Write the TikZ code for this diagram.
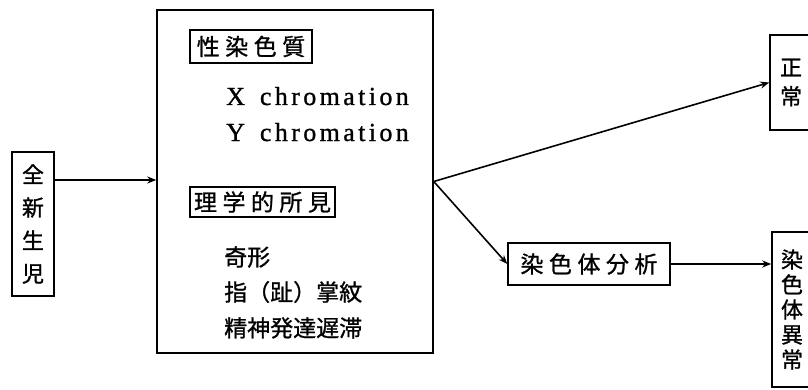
\documentclass[tikz,border=0pt]{standalone}
\usepackage{fontspec}
\setmainfont{Liberation Serif}
\newfontfamily\jp[FakeBold=1]{Noto Sans CJK JP}
\newfontfamily\lat[LetterSpace=13,FakeBold=1]{Liberation Serif}
\usetikzlibrary{arrows.meta}
\newcommand\jgap{\hspace{5.5pt}}
\begin{document}
\begin{tikzpicture}[x=1pt,y=1pt,
  box/.style={draw, inner sep=0pt, line width=1.5pt},
  arr/.style={-{Stealth[length=9pt,width=7pt]}, line width=1.6pt},
  jpt/.style={font={\jp\fontsize{23pt}{26pt}\selectfont}},
  jpl/.style={font={\jp\fontsize{23pt}{26pt}\selectfont}, inner sep=0pt, anchor=west},
  latt/.style={font={\lat\fontsize{26pt}{28pt}\selectfont}, inner sep=0pt, anchor=base west}]
\useasboundingbox (0,0) rectangle (808,389);
\clip (0,0) rectangle (808,389);
% left box
\node[box, minimum width=42pt, minimum height=144pt, align=center,
      font={\jp\fontsize{22pt}{33pt}\selectfont}] (nb) at (33,165) {全\\新\\生\\児};
% main box
\node[box, minimum width=276pt, minimum height=343pt] (main) at (295,207.5) {};
\node[box, minimum width=122pt, minimum height=33pt, jpt] (sx) at (251,342.5) {性\jgap 染\jgap 色\jgap 質};
\node[latt] (xc) at (226,284) {X\hspace{15pt}chromation};
\node[latt] (yc) at (226,248) {Y\hspace{15pt}chromation};
\node[box, minimum width=145pt, minimum height=30pt, jpt] (ph) at (262.5,187) {理\jgap 学\jgap 的\jgap 所\jgap 見};
\node[jpl] (l1) at (224,132) {奇形};
\node[jpl] (l2) at (224,97) {指（趾）掌紋};
\node[jpl] (l3) at (224,61) {精神発達遅滞};
% right side
\node[box, minimum width=42pt, minimum height=95pt, align=center,
      font={\jp\fontsize{22pt}{29pt}\selectfont}] (ok) at (791,306.5) {正\\常};
\node[box, minimum width=162pt, minimum height=42pt, jpt] (ana) at (589,125) {染\jgap 色\jgap 体\jgap 分\jgap 析};
\node[box, minimum width=40pt, minimum height=155pt, align=center,
      font={\jp\fontsize{22pt}{25pt}\selectfont}] (abn) at (792,79.5) {染\\色\\体\\異\\常};
% connectors
\coordinate (a) at (0,209);
\draw[arr] (nb.east |- a) -- (main.west |- a);
\draw[arr] (main.east) -- (ok.west);
\draw[arr] (main.east) -- (ana.west);
\draw[arr] (ana.east) -- (abn.west |- ana.east);
\end{tikzpicture}
\end{document}
